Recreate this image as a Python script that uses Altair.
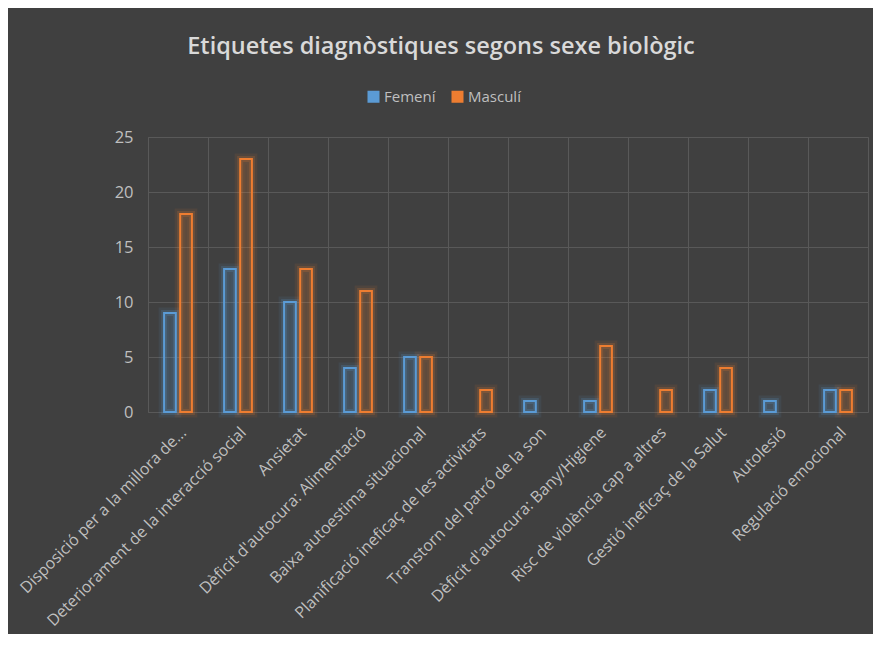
import altair as alt
import pandas as pd

categories = [
    "Disposició per a la millora de...",
    "Deteriorament de la interacció social",
    "Ansietat",
    "Dèficit d'autocura: Alimentació",
    "Baixa autoestima situacional",
    "Planificació ineficaç de les activitats",
    "Transtorn del patró de la son",
    "Dèficit d'autocura: Bany/Higiene",
    "Risc de violència cap a altres",
    "Gestió ineficaç de la Salut",
    "Autolesió",
    "Regulació emocional",
]
femeni = [9, 13, 10, 4, 5, 0, 1, 1, 0, 2, 1, 2]
masculi = [18, 23, 13, 11, 5, 2, 0, 6, 2, 4, 0, 2]
series = ["Femení", "Masculí"]
colors = ["#5b9bd5", "#ed7d31"]

rows = []
for c, f, m in zip(categories, femeni, masculi):
    rows.append({"cat": c, "sex": series[0], "value": f})
    rows.append({"cat": c, "sex": series[1], "value": m})
df = pd.DataFrame(rows)

FONT = "Open Sans"
TXT = "#bfbfbf"
GRID = "#595959"
BG = "#404040"

xscale = alt.Scale(domain=categories, paddingInner=0, paddingOuter=0)
offscale = alt.Scale(domain=series, paddingInner=0.27, paddingOuter=1)
yscale = alt.Scale(domain=[0, 25])
stroke_scale = alt.Scale(domain=series, range=colors)

legend = alt.Legend(orient="none", direction="horizontal",
                    legendX=218, legendY=-48, title=None,
                    symbolType="square", symbolSize=100,
                    symbolStrokeWidth=2, symbolFillColor=BG,
                    labelColor=TXT, labelFont=FONT,
                    labelFontSize=15, columnPadding=12,
                    labelOffset=3)

base = (
    alt.Chart(df)
    .transform_filter("datum.value > 0")
    .transform_calculate(tint="datum.sex")
)

grid_x = alt.X("cat:N", scale=xscale, sort=categories,
               axis=alt.Axis(orient="top", grid=True, bandPosition=0, labels=False,
                             ticks=False, domain=False, title=None,
                             gridColor=GRID, gridWidth=1))
y_enc = alt.Y("value:Q", scale=yscale,
              axis=alt.Axis(values=[0, 5, 10, 15, 20, 25], title=None, ticks=False,
                            domain=False, grid=True, gridColor=GRID,
                            labelColor=TXT, labelFont=FONT, labelFontSize=16.5,
                            labelPadding=15))
off = alt.XOffset("sex:N", scale=offscale)
x_plain = alt.X("cat:N", scale=xscale, sort=categories, axis=None)
y_plain = alt.Y("value:Q", scale=yscale)

glow_outer = base.mark_bar(filled=False, strokeWidth=11, strokeOpacity=0.09).encode(
    x=grid_x,
    xOffset=off,
    y=y_enc,
    stroke=alt.Stroke("sex:N", scale=stroke_scale, legend=legend),
)

glow_inner = base.mark_bar(filled=False, strokeWidth=6, strokeOpacity=0.18).encode(
    x=x_plain,
    xOffset=off,
    y=y_plain,
    stroke=alt.Stroke("sex:N", scale=stroke_scale, legend=legend),
)

tint = base.mark_bar(fillOpacity=0.14, strokeWidth=0).encode(
    x=x_plain,
    xOffset=off,
    y=y_plain,
    fill=alt.Fill("tint:N", scale=alt.Scale(domain=series, range=colors), legend=None),
)

bars = base.mark_bar(filled=False, strokeWidth=2).encode(
    x=alt.X("cat:N", scale=xscale, sort=categories,
            axis=alt.Axis(orient="bottom", grid=False, labelAngle=-45, title=None,
                          ticks=False, domain=False, labelColor=TXT, labelFont=FONT,
                          labelFontSize=16, labelPadding=12, labelLimit=400,
                          labelOverlap=False)),
    xOffset=off,
    y=y_plain,
    stroke=alt.Stroke("sex:N", scale=stroke_scale, legend=legend),
)

chart = (
    alt.layer(glow_outer, glow_inner, tint, bars)
    .resolve_axis(x="independent")
    .properties(
        width=720,
        height=275,
        background=BG,
        autosize=alt.AutoSizeParams(type="none"),
        padding={"left": 140, "top": 129, "right": 5, "bottom": 222},
        title=alt.Title("Etiquetes diagnòstiques segons sexe biològic",
                        font=FONT, fontSize=23.5, fontWeight=600, color="#d9d9d9",
                        anchor="middle", offset=31, dx=-67),
    )
    .configure_view(stroke=GRID, strokeWidth=1)
)

chart.save("out.html", embed_options={"renderer": "svg", "actions": False})
